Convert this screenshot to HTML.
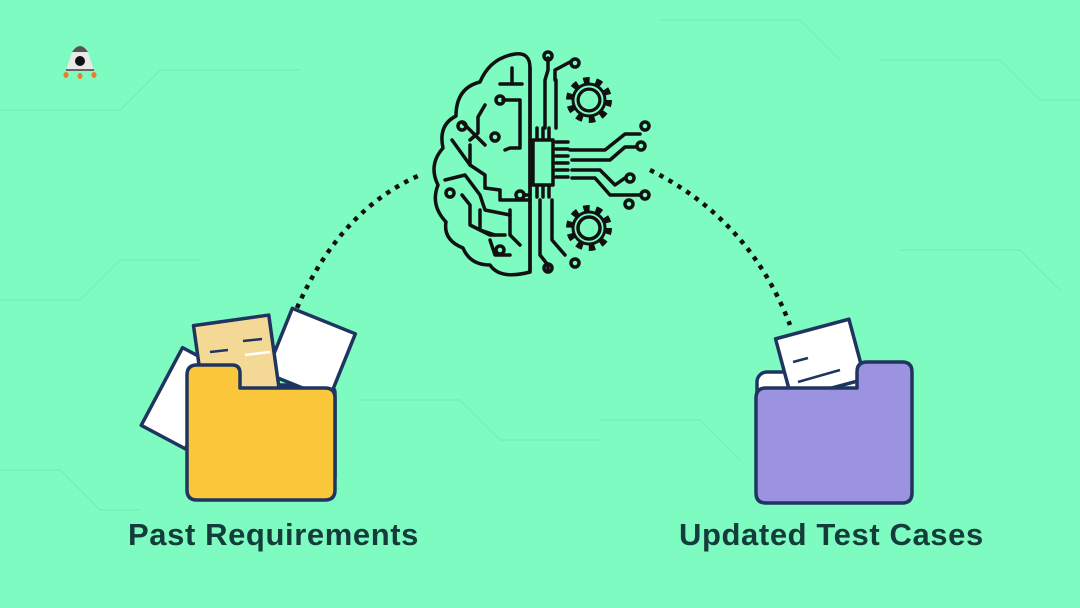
<!DOCTYPE html>
<html><head><style>
html,body{margin:0;padding:0}
body{width:1080px;height:608px;background:#7dfbc0;position:relative;overflow:hidden;font-family:"Liberation Sans",sans-serif}
.t{position:absolute;top:517px;font-weight:bold;font-size:31px;color:#133c3a;letter-spacing:0.6px}
</style></head><body>
<svg width="1080" height="608" style="position:absolute;left:0;top:0">
<g stroke="#74f2b6" stroke-width="1.5" fill="none">
<path d="M0 110 H120 L160 70 H300"/><path d="M0 300 H80 L120 260 H200"/><path d="M880 60 H1000 L1040 100 H1080"/>
<path d="M900 250 H1020 L1060 290"/><path d="M0 470 H60 L100 510 H140"/><path d="M600 420 H700 L740 460"/>
<path d="M360 400 H460 L500 440 H600"/><path d="M660 20 H800 L840 60"/>
</g>
<path d="M297 308 Q340 210 420 175" stroke="#111" stroke-width="4.5" fill="none" stroke-dasharray="4.5 6"/>
<path d="M650 170 Q750 220 790 325" stroke="#111" stroke-width="4.5" fill="none" stroke-dasharray="4.5 6"/>
<!-- rocket -->
<path d="M66 70 L72 52 Q80 40 88 52 L94 70 Z" fill="#e8e8e8"/><path d="M72 52 Q80 40 88 52 Z" fill="#555"/>
<circle cx="80" cy="61" r="5" fill="#111"/><path d="M66 70 H94" stroke="#666" stroke-width="2"/>
<g fill="#f07a2a"><ellipse cx="66" cy="75" rx="2.5" ry="3"/><ellipse cx="80" cy="76" rx="2.5" ry="3"/><ellipse cx="94" cy="75" rx="2.5" ry="3"/></g>
<!-- brain -->
<g stroke="#111" stroke-width="3.5" fill="none" stroke-linecap="round" stroke-linejoin="round">
<path d="M530 272 Q500 280 490 265 Q470 265 463 248 Q443 240 446 222 Q430 205 438 185 Q428 165 443 148 Q438 125 456 116 Q456 88 480 82 Q490 58 515 54 Q530 52 530 68 Z"/>
<path d="M530 68 V272"/>
<path d="M512 68 V84 M500 84 H522"/><path d="M485 105 L478 117 V133 L470 140"/>
<path d="M503 100 H520 V148 H510 L505 150"/><path d="M462 122 L475 135 L485 145"/>
<circle cx="500" cy="100" r="4"/><circle cx="462" cy="126" r="4"/><circle cx="495" cy="137" r="4"/>
<path d="M452 140 L470 165 L485 175 V188 L500 190 V200 L530 200"/><path d="M470 145 V165"/>
<path d="M445 180 L465 175 L480 195 L485 210 L510 215"/><circle cx="450" cy="193" r="4"/>
<path d="M462 195 L470 205 V225 L490 235 L505 235"/><circle cx="520" cy="195" r="4"/><path d="M524 195 H530"/>
<path d="M480 210 V230 L495 235"/><path d="M490 240 L495 255 H510"/><circle cx="500" cy="250" r="4"/>
<path d="M510 210 V235 L520 245"/>
<path d="M548 58 V70 L545 80 V128"/><circle cx="548" cy="56" r="4"/>
<path d="M555 80 V70 L570 62"/><circle cx="575" cy="63" r="4"/><path d="M556 80 V128"/>
<rect x="533" y="140" width="20" height="45"/>
<path d="M537 128 V138 M543 128 V138 M549 128 V138 M537 187 V197 M543 187 V197 M549 187 V197"/>
<path d="M556 142 H568 M556 149 H568 M556 156 H568 M556 163 H568 M556 170 H568 M556 177 H568"/>
<path d="M570 150 H605 L625 134 H640"/><circle cx="645" cy="126" r="4"/><path d="M572 160 H610 L625 147 H636"/><circle cx="641" cy="146" r="4"/>
<path d="M572 170 H600 L615 185 L625 178"/><circle cx="630" cy="178" r="4"/><path d="M572 178 H595 L610 195 H640"/><circle cx="645" cy="195" r="4"/><circle cx="629" cy="204" r="4"/>
<path d="M540 200 V255 L548 265 V270"/><circle cx="548" cy="268" r="4"/><path d="M552 200 V240 L565 255"/><circle cx="575" cy="263" r="4"/>
</g>
<g stroke="#111" fill="none">
<circle cx="589" cy="100" r="11" stroke-width="3.5"/>
<circle cx="589" cy="100" r="19" stroke-width="8" stroke-dasharray="6 6"/>
<circle cx="589" cy="100" r="16" stroke-width="3"/>
<circle cx="589" cy="228" r="11" stroke-width="3.5"/>
<circle cx="589" cy="228" r="19" stroke-width="8" stroke-dasharray="6 6"/>
<circle cx="589" cy="228" r="16" stroke-width="3"/>
</g>
<circle cx="589" cy="100" r="13" fill="none" stroke="#7dfbc0" stroke-width="1"/>
<!-- left folder -->
<g stroke="#1f3560" stroke-width="3.5" stroke-linejoin="round">
<rect x="190" y="385" width="145" height="100" rx="8" fill="#fff"/>
<g transform="rotate(28 180 395)"><rect x="160" y="352" width="50" height="88" fill="#fff"/></g>
<g transform="rotate(22 310 350)"><rect x="278" y="318" width="68" height="70" fill="#fff"/></g>
<g transform="rotate(-8 236 355)"><rect x="198" y="320" width="76" height="75" fill="#f4d996"/></g>
<path d="M197 365 H232 Q240 365 240 373 V388 H325 Q335 388 335 398 V490 Q335 500 325 500 H197 Q187 500 187 490 V375 Q187 365 197 365 Z" fill="#fbc73a"/>
</g>
<g stroke-width="2.5"><path d="M243 341 L262 339 M210 352 L228 350" stroke="#1f3560"/><path d="M245 355 L270 352" stroke="#fff"/></g>
<!-- right folder -->
<g stroke="#1f3560" stroke-width="3.5" stroke-linejoin="round">
<rect x="757" y="372" width="150" height="110" rx="10" fill="#fff"/>
<g transform="rotate(-15 820 358)"><rect x="782" y="328" width="76" height="62" fill="#fff"/></g>
<path d="M766 388 H857 V372 Q857 362 867 362 H902 Q912 362 912 372 V493 Q912 503 902 503 H766 Q756 503 756 493 V398 Q756 388 766 388 Z" fill="#9c93e0"/>
<path d="M793 362 L808 358 M798 382 L840 370" stroke-width="2.5" fill="none"/>
</g>
</svg>
<div class="t" style="left:128px">Past Requirements</div>
<div class="t" style="left:679px">Updated Test Cases</div>
</body></html>
